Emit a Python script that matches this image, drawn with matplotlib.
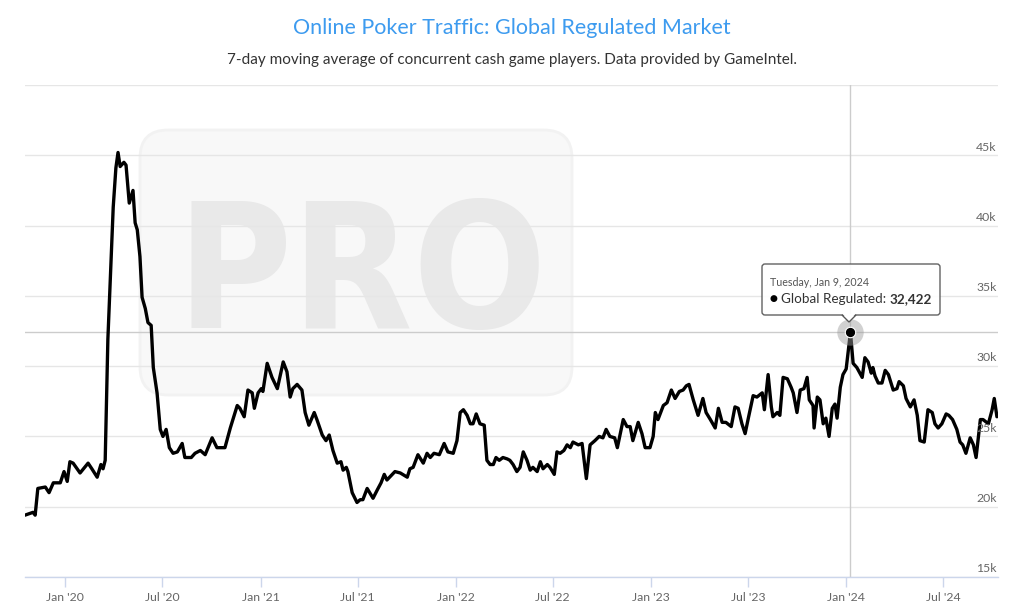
import pandas as pd
import matplotlib
matplotlib.use("Agg")
import matplotlib.pyplot as plt
import matplotlib.dates as mdates
from matplotlib.patches import FancyBboxPatch, Polygon
from matplotlib.transforms import IdentityTransform, blended_transform_factory

# 7-day moving average of concurrent cash game players
dates = [
    "2019-10-18", "2019-11-02", "2019-11-06", "2019-11-11", "2019-11-25", "2019-12-02", "2019-12-10",
    "2019-12-23", "2019-12-30", "2020-01-05", "2020-01-10", "2020-01-16", "2020-01-29", "2020-02-13",
    "2020-02-20", "2020-03-01", "2020-03-08", "2020-03-12", "2020-03-16", "2020-03-21", "2020-03-31",
    "2020-04-05", "2020-04-09", "2020-04-13", "2020-04-20", "2020-04-24", "2020-04-30", "2020-05-07",
    "2020-05-11", "2020-05-15", "2020-05-20", "2020-05-24", "2020-05-30", "2020-06-04", "2020-06-10",
    "2020-06-14", "2020-06-21", "2020-06-27", "2020-07-02", "2020-07-08", "2020-07-14", "2020-07-21",
    "2020-07-29", "2020-08-07", "2020-08-12", "2020-08-24", "2020-08-31", "2020-09-10", "2020-09-19",
    "2020-10-02", "2020-10-11", "2020-10-26", "2020-11-05", "2020-11-18", "2020-11-23", "2020-12-01",
    "2020-12-08", "2020-12-16", "2020-12-20", "2020-12-27", "2021-01-02", "2021-01-05", "2021-01-13",
    "2021-01-22", "2021-02-01", "2021-02-12", "2021-02-19", "2021-02-25", "2021-03-02", "2021-03-10",
    "2021-03-19", "2021-03-25", "2021-04-01", "2021-04-11", "2021-04-16", "2021-04-26", "2021-05-03",
    "2021-05-09", "2021-05-16", "2021-05-24", "2021-05-31", "2021-06-04", "2021-06-10", "2021-06-13",
    "2021-06-21", "2021-06-30", "2021-07-06", "2021-07-11", "2021-07-19", "2021-07-30", "2021-08-07",
    "2021-08-14", "2021-08-20", "2021-08-25", "2021-09-04", "2021-09-09", "2021-09-19", "2021-10-02",
    "2021-10-07", "2021-10-13", "2021-10-22", "2021-11-01", "2021-11-08", "2021-11-14", "2021-11-21",
    "2021-12-01", "2021-12-10", "2021-12-17", "2021-12-27", "2022-01-03", "2022-01-09", "2022-01-15",
    "2022-01-22", "2022-01-28", "2022-02-02", "2022-02-08", "2022-02-15", "2022-02-23", "2022-02-28",
    "2022-03-06", "2022-03-12", "2022-03-17", "2022-03-23", "2022-03-30", "2022-04-07", "2022-04-12",
    "2022-04-18", "2022-04-25", "2022-05-01", "2022-05-07", "2022-05-14", "2022-05-20", "2022-05-25",
    "2022-06-02", "2022-06-08", "2022-06-13", "2022-06-21", "2022-06-26", "2022-07-04", "2022-07-09",
    "2022-07-15", "2022-07-22", "2022-07-28", "2022-08-03", "2022-08-08", "2022-08-18", "2022-08-25",
    "2022-09-02", "2022-09-09", "2022-09-18", "2022-09-26", "2022-10-03", "2022-10-09", "2022-10-16",
    "2022-10-25", "2022-10-30", "2022-11-10", "2022-11-17", "2022-11-23", "2022-11-28", "2022-12-08",
    "2022-12-15", "2022-12-21", "2022-12-30", "2023-01-05", "2023-01-09", "2023-01-14", "2023-01-24",
    "2023-01-31", "2023-02-08", "2023-02-15", "2023-02-23", "2023-03-02", "2023-03-08", "2023-03-13",
    "2023-03-21", "2023-03-30", "2023-04-08", "2023-04-14", "2023-04-22", "2023-05-01", "2023-05-07",
    "2023-05-14", "2023-05-21", "2023-05-31", "2023-06-07", "2023-06-13", "2023-06-20", "2023-06-26",
    "2023-07-02", "2023-07-11", "2023-07-18", "2023-07-28", "2023-08-01", "2023-08-08", "2023-08-14",
    "2023-08-17", "2023-08-25", "2023-08-30", "2023-09-05", "2023-09-13", "2023-09-20", "2023-09-24",
    "2023-10-01", "2023-10-07", "2023-10-14", "2023-10-20", "2023-10-24", "2023-10-31", "2023-11-02",
    "2023-11-08", "2023-11-13", "2023-11-19", "2023-11-24", "2023-11-30", "2023-12-06", "2023-12-11",
    "2023-12-15", "2023-12-21", "2023-12-26", "2024-01-01", "2024-01-09", "2024-01-14", "2024-01-21",
    "2024-01-31", "2024-02-05", "2024-02-11", "2024-02-17", "2024-02-20", "2024-02-24", "2024-03-01",
    "2024-03-08", "2024-03-14", "2024-03-20", "2024-03-29", "2024-04-05", "2024-04-09", "2024-04-17",
    "2024-04-22", "2024-04-30", "2024-05-07", "2024-05-13", "2024-05-18", "2024-05-26", "2024-06-02",
    "2024-06-10", "2024-06-15", "2024-06-21", "2024-06-28", "2024-07-06", "2024-07-11", "2024-07-18",
    "2024-07-26", "2024-08-01", "2024-08-06", "2024-08-12", "2024-08-20", "2024-08-26", "2024-08-31",
    "2024-09-08", "2024-09-13", "2024-09-23", "2024-09-30", "2024-10-04", "2024-10-09",
]
players = [
    19400, 19600, 19400, 21300, 21400, 21000, 21700,
    21700, 22500, 21800, 23200, 23100, 22400, 23100,
    22700, 22100, 23000, 22700, 23300, 31900, 41300,
    44100, 45200, 44200, 44500, 44300, 41600, 42500,
    40200, 39700, 37800, 34900, 34100, 33100, 32900,
    29900, 28100, 25500, 25000, 25500, 24200, 23800,
    23900, 24500, 23500, 23500, 23800, 24000, 23700,
    24900, 24200, 24200, 25600, 27200, 27000, 26400,
    28300, 28100, 27000, 28100, 28400, 28200, 30200,
    29200, 28400, 30300, 29600, 27800, 28400, 28700,
    28300, 26700, 25800, 26700, 26200, 25100, 24700,
    25100, 24000, 23100, 23200, 22600, 22800, 22500,
    21000, 20300, 20500, 20500, 21300, 20600, 21200,
    21700, 22300, 21900, 22300, 22500, 22400, 22100,
    22700, 22800, 23700, 23100, 23800, 23500, 23800,
    23700, 24500, 23900, 23800, 24700, 26700, 26900,
    26500, 25900, 25900, 26600, 25900, 25800, 23300,
    23000, 23000, 23500, 23300, 23500, 23400, 23300,
    23000, 22500, 22800, 23900, 23300, 22600, 22800,
    22500, 23200, 22700, 23000, 22800, 22300, 23900,
    23800, 24000, 24400, 24200, 24600, 24400, 24500,
    22000, 24400, 24700, 25000, 24900, 25500, 25000,
    24900, 24200, 26200, 25700, 25700, 24700, 26000,
    25200, 24200, 24200, 25000, 26700, 26200, 27200,
    27400, 28300, 27700, 28200, 28300, 28600, 28700,
    27600, 26500, 27700, 26700, 26200, 25600, 27000,
    26000, 26000, 25700, 27100, 27000, 25900, 25200,
    26300, 27900, 27800, 28100, 26900, 29400, 27100,
    26400, 26700, 26500, 29200, 29100, 28500, 28100,
    26700, 28300, 28400, 29200, 27600, 27200, 25600,
    27800, 27600, 25900, 26300, 25000, 27000, 27300,
    26300, 28500, 29400, 29800, 32422, 30200, 29900,
    29200, 30600, 30300, 29500, 29900, 29300, 28800,
    28800, 29700, 29400, 28300, 28400, 28900, 28600,
    27700, 27100, 27600, 26500, 24700, 24600, 26900,
    26700, 25900, 25600, 25900, 26600, 26500, 26200,
    25500, 24600, 24400, 23800, 24900, 24400, 23500,
    26200, 26200, 25900, 26900, 27700, 26400,
]
y_ticks = [15000, 20000, 25000, 30000, 35000, 40000, 45000]
y_grid = [15000, 20000, 25000, 30000, 35000, 40000, 45000, 50000]
hover_date = "2024-01-09"
hover_value = 32422

df = pd.DataFrame({"date": pd.to_datetime(dates), "players": players})

plt.rcParams['font.family'] = ['Lato', 'DejaVu Sans']

fig = plt.figure(figsize=(10.24, 6.15), dpi=100)
ax = fig.add_axes([25 / 1024, 1 - 577 / 615, 973 / 1024, 492 / 615])

# watermark
wm = FancyBboxPatch((140, 615 - 395), 432, 265, boxstyle="round,pad=0,rounding_size=28",
                    transform=IdentityTransform(), facecolor="#f8f8f8", edgecolor="#f2f2f2",
                    lw=2, zorder=0.1)
ax.add_patch(wm)
ax.text(362, 615 - 262, "PRO", transform=IdentityTransform(), ha="center", va="center_baseline",
        fontsize=126, fontweight="bold", fontstretch="condensed", family="DejaVu Sans",
        color="#e9e9e9", zorder=0.2)

for v in y_grid:
    ax.axhline(v, color="#e6e6e6", lw=1, zorder=0.5)

# crosshairs
hx = pd.Timestamp(hover_date)
ax.axvline(hx, color="#cccccc", lw=1, zorder=0.6)
ax.axhline(hover_value, color="#cccccc", lw=1, zorder=0.6)

ax.plot(df["date"], df["players"], color="black", lw=2.4, solid_joinstyle="round",
        solid_capstyle="round", zorder=3)
ax.plot([hx], [hover_value], "o", ms=19, color="#9a9a9a", alpha=0.45, mec="none", zorder=3.5)
ax.plot([hx], [hover_value], "o", ms=7.5, color="black", mec="white", mew=0.8, zorder=4)

ax.set_ylim(15000, 50000)
ax.set_xlim(df["date"].iloc[0], df["date"].iloc[-1] + pd.Timedelta(days=2))

for s in ["top", "right", "left"]:
    ax.spines[s].set_visible(False)
ax.spines["bottom"].set_color("#ccd6eb")
ax.spines["bottom"].set_linewidth(1)
ax.spines["bottom"].set_zorder(0.7)

ax.set_yticks([])
trans = blended_transform_factory(ax.transAxes, ax.transData)
for v in y_ticks:
    ax.annotate("%dk" % (v // 1000), xy=(1, v), xycoords=trans, xytext=(-1, 2),
                textcoords="offset points", ha="right", va="bottom", fontsize=8.8, color="#666666")

ax.xaxis.set_major_locator(mdates.MonthLocator(bymonth=[1, 7]))
ax.xaxis.set_major_formatter(mdates.DateFormatter("%b '%y"))
ax.tick_params(axis="x", length=7.5, width=1, color="#ccd6eb", labelsize=8.8,
               labelcolor="#666666", pad=3)

# tooltip
tip = FancyBboxPatch((762, 615 - 315), 178, 51, boxstyle="round,pad=0,rounding_size=3",
                     transform=IdentityTransform(), facecolor="white", edgecolor="#555555",
                     lw=1, alpha=0.92, zorder=5)
ax.add_patch(tip)
ax.add_patch(Polygon([(842, 615 - 315), (849, 615 - 322), (856, 615 - 315)], closed=True,
                     transform=IdentityTransform(), facecolor="white", edgecolor="#555555",
                     lw=1, zorder=5.1))
ax.add_patch(Polygon([(842.5, 615 - 314), (849, 615 - 320.5), (855.5, 615 - 314)], closed=True,
                     transform=IdentityTransform(), facecolor="white", edgecolor="none",
                     zorder=5.2))
ax.text(770, 615 - 282, "Tuesday, Jan 9, 2024", transform=IdentityTransform(), ha="left",
        va="center", fontsize=7.7, color="#555555", zorder=6)
ax.text(770, 615 - 299, "\u25cf", transform=IdentityTransform(), ha="left", va="center",
        fontsize=6.5, family="DejaVu Sans", color="black", zorder=6)
t1 = ax.text(781, 615 - 299, "Global Regulated: ", transform=IdentityTransform(), ha="left",
             va="center", fontsize=9.7, color="#333333", zorder=6)
ax.annotate("{:,}".format(hover_value), xy=(1, 0.5), xycoords=t1, ha="left", va="center",
            fontsize=9.7, fontweight="bold", color="#333333", zorder=6)

fig.text(0.5, 1 - 28 / 615, "Online Poker Traffic: Global Regulated Market", ha="center",
         va="center", fontsize=15.5, color="#3d9bef")
fig.text(0.5, 1 - 60 / 615, "7-day moving average of concurrent cash game players. Data provided by GameIntel.",
         ha="center", va="center", fontsize=11, color="#333333")

fig.savefig("out.png", dpi=100)
